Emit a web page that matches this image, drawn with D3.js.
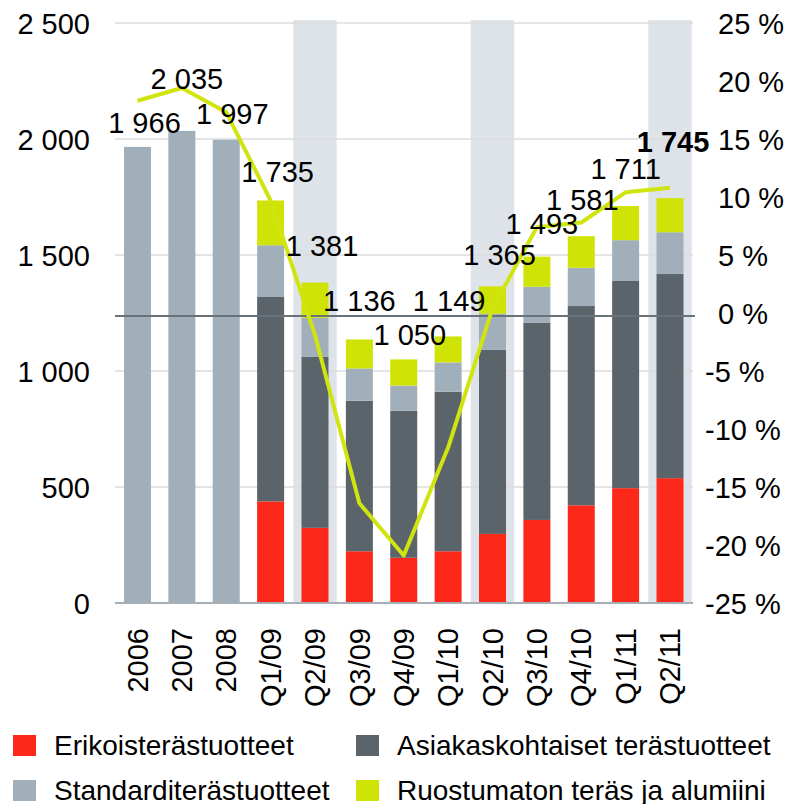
<!DOCTYPE html>
<html>
<head>
<meta charset="utf-8">
<script src="https://cdn.jsdelivr.net/npm/d3@7"></script>
<style>
  body { margin: 0; background: #fff; }
  text { font-family: "Liberation Sans", Arial, sans-serif; fill: #000; }
</style>
</head>
<body>
<div id="chart"></div>
<script>
// Categories and series (tonnes, thousands)
const categories = ["2006", "2007", "2008", "Q1/09", "Q2/09", "Q3/09", "Q4/09",
                    "Q1/10", "Q2/10", "Q3/10", "Q4/10", "Q1/11", "Q2/11"];
const erikois    = [0, 0, 0, 438, 324, 223, 195, 223, 298, 358, 421, 495, 538];
const asiakas    = [0, 0, 0, 881, 737, 649, 634, 688, 793, 851, 859, 893, 880];
const standard   = [1966, 2035, 1997, 223, 168, 139, 108, 126, 156, 154, 165, 176, 180];
const ruostumaton = [0, 0, 0, 193, 152, 125, 113, 112, 118, 130, 136, 147, 147];
// Line on the right axis (%)
const growth = [18.3, 19.4, 17.3, 9.7, -1.9, -16.4, -20.9, -11.6, 0.4, 7.4, 7.8, 10.4, 10.8];
// Shaded quarters
const highlighted = ["Q2/09", "Q2/10", "Q2/11"];
const leftTicks = [0, 500, 1000, 1500, 2000, 2500];
const rightTicks = [-25, -20, -15, -10, -5, 0, 5, 10, 15, 20, 25];

const seriesNames = ["Erikoisterästuotteet", "Asiakaskohtaiset terästuotteet",
                     "Standarditerästuotteet", "Ruostumaton teräs ja alumiini"];
const colors = ["#fc281a", "#5b636b", "#a1afbb", "#cfe406"];

// label nudges (layout only): [dx, dy] from bar top
const labelNudge = [[7, -24], [5, -52], [6, -26], [7, -29], [7, -37], [0, -39], [6, -25],
                    [1, -36], [7, -31], [5, -33], [1, -36], [0, -37], [3, -56]];

const W = 795, H = 804;
const svg = d3.select("#chart").append("svg")
  .attr("width", W).attr("height", H);

const x = d3.scaleBand().domain(categories).range([115.3, 692.2]).padding(0);
const y = d3.scaleLinear().domain([0, 2500]).range([603, 23]);
const y2 = d3.scaleLinear().domain([-25, 25]).range([603, 23]);

const rows = categories.map((c, i) => ({
  cat: c, erikois: erikois[i], asiakas: asiakas[i], standard: standard[i], ruostumaton: ruostumaton[i]
}));
const keys = ["erikois", "asiakas", "standard", "ruostumaton"];
const stacked = d3.stack().keys(keys)(rows);
const totals = rows.map(r => keys.reduce((s, k) => s + r[k], 0));

// shaded columns
svg.append("g").selectAll("rect").data(highlighted).join("rect")
  .attr("x", d => x(d) + 0.5)
  .attr("width", x.bandwidth() - 1)
  .attr("y", y(2500) - 3)
  .attr("height", y(0) - y(2500) + 3)
  .attr("fill", "#dee3ea");

// gridlines
svg.append("g").selectAll("line").data(leftTicks.slice(1)).join("line")
  .attr("x1", 115).attr("x2", 693)
  .attr("y1", d => y(d)).attr("y2", d => y(d))
  .attr("stroke", "#dcdcdc").attr("stroke-width", 1.5);

// stacked bars
const barW = 27;
svg.append("g").selectAll("g").data(stacked).join("g")
  .attr("fill", (d, i) => colors[i])
  .selectAll("rect").data(d => d).join("rect")
  .attr("x", d => x(d.data.cat) + x.bandwidth() / 2 - barW / 2)
  .attr("width", barW)
  .attr("y", d => y(d[1]))
  .attr("height", d => y(d[0]) - y(d[1]));

// base line
svg.append("line")
  .attr("x1", 115).attr("x2", 693)
  .attr("y1", y(0)).attr("y2", y(0))
  .attr("stroke", "#a7aeb5").attr("stroke-width", 2);

// zero % line
svg.append("line")
  .attr("x1", 115).attr("x2", 695)
  .attr("y1", y2(0) + 3).attr("y2", y2(0) + 3)
  .attr("stroke", "#6a7279").attr("stroke-width", 2);

// growth line
const line = d3.line()
  .x((d, i) => x(categories[i]) + x.bandwidth() / 2)
  .y(d => y2(d));
svg.append("path")
  .datum(growth)
  .attr("d", line)
  .attr("fill", "none")
  .attr("stroke", "#d0e510")
  .attr("stroke-width", 4)
  .attr("stroke-linejoin", "round");

// left axis
const fmt = v => d3.format(",")(v).replace(/,/g, " ");
const leftAxis = svg.append("g")
  .attr("transform", "translate(90,0)")
  .call(d3.axisLeft(y).tickValues(leftTicks).tickSize(0).tickPadding(0).tickFormat(fmt));
leftAxis.select(".domain").remove();
leftAxis.selectAll("text").attr("font-size", 29).attr("font-family", null).attr("dy", "0.35em");

// right axis
const rightAxis = svg.append("g")
  .attr("transform", "translate(705,0)")
  .call(d3.axisRight(y2).tickValues(rightTicks).tickSize(0).tickPadding(0)
    .tickFormat(d => (d < 0 ? "-" : "") + Math.abs(d) + " %"));
rightAxis.select(".domain").remove();
rightAxis.selectAll("text")
  .attr("font-size", 29).attr("font-family", null).attr("dy", "0.35em")
  .attr("x", d => d < 0 ? 0 : 13);

// x labels, rotated
svg.append("g").selectAll("text").data(categories).join("text")
  .attr("transform", d => `translate(${x(d) + x.bandwidth() / 2},628) rotate(-90)`)
  .attr("text-anchor", "end")
  .attr("dy", "0.35em")
  .attr("font-size", 29)
  .text(d => d);

// total labels
svg.append("g").selectAll("text").data(totals).join("text")
  .attr("x", (d, i) => x(categories[i]) + x.bandwidth() / 2 + labelNudge[i][0])
  .attr("y", (d, i) => y(d) + labelNudge[i][1])
  .attr("dy", "0.35em")
  .attr("text-anchor", "middle")
  .attr("font-size", 29)
  .attr("font-weight", (d, i) => i === totals.length - 1 ? "bold" : null)
  .text(d => fmt(d));

// legend
const legendPos = [[13, 0], [356, 0], [13, 1], [356, 1]];
const legend = svg.append("g").selectAll("g").data(seriesNames).join("g")
  .attr("transform", (d, i) => `translate(${legendPos[i][0]},${735 + legendPos[i][1] * 45})`);
legend.append("rect")
  .attr("width", 23).attr("height", 21)
  .attr("fill", (d, i) => colors[i]);
legend.append("text")
  .attr("x", 41).attr("y", 20)
  .attr("font-size", 28)
  .text(d => d);
</script>
</body>
</html>
